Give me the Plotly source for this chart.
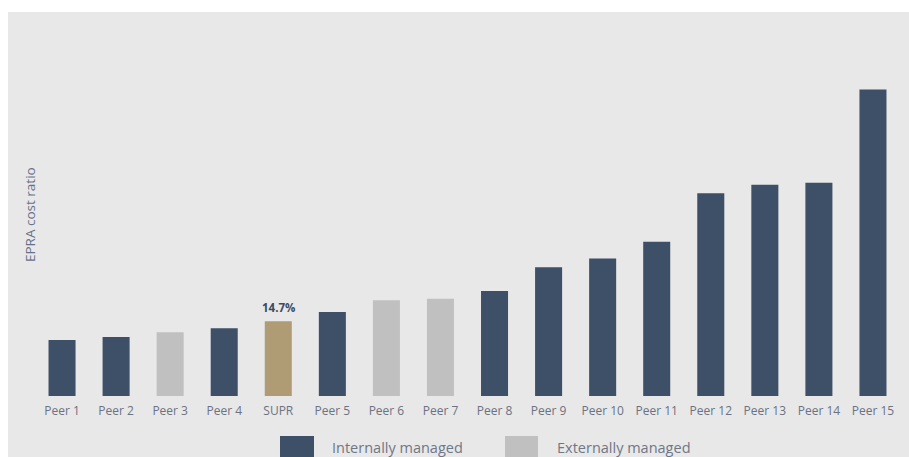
import plotly.graph_objects as go

# Peer group EPRA cost ratios (%)
categories = ["Peer 1", "Peer 2", "Peer 3", "Peer 4", "SUPR", "Peer 5", "Peer 6", "Peer 7",
              "Peer 8", "Peer 9", "Peer 10", "Peer 11", "Peer 12", "Peer 13", "Peer 14", "Peer 15"]
values = [11.0, 11.6, 12.5, 13.3, 14.7, 16.5, 18.8, 19.1,
          20.6, 25.3, 27.0, 30.3, 39.8, 41.5, 41.9, 60.2]
management = ["internal", "internal", "external", "internal", "supr", "internal", "external", "external",
              "internal", "internal", "internal", "internal", "internal", "internal", "internal", "internal"]

DARK = "#3e4f68"
LIGHT = "#c0c0c0"
GOLD = "#b09c74"
BG = "#e8e8e8"
FONT = "Open Sans"

W, H = 909, 457
ML, MR, MT, MB = 35, 9, 65, 61
PW, PH = W - ML - MR, H - MT - MB


def px_x(x):
    return (x - ML) / PW


def px_y(y):
    return (H - MB - y) / PH


def subset(kind):
    xs = [c for c, m in zip(categories, management) if m == kind]
    ys = [v for v, m in zip(values, management) if m == kind]
    return xs, ys


fig = go.Figure()
for kind, color in [("internal", DARK), ("external", LIGHT), ("supr", GOLD)]:
    xs, ys = subset(kind)
    fig.add_bar(x=xs, y=ys, marker=dict(color=color, line=dict(width=0)),
                showlegend=False, hoverinfo="x+y")

shapes = [
    # panel background
    dict(type="rect", xref="paper", yref="paper", layer="below",
         x0=px_x(8), x1=px_x(W), y0=px_y(H), y1=px_y(12),
         fillcolor=BG, line=dict(width=0)),
    # legend swatches
    dict(type="rect", xref="paper", yref="paper",
         x0=px_x(280), x1=px_x(314), y0=px_y(458), y1=px_y(436),
         fillcolor=DARK, line=dict(width=0)),
    dict(type="rect", xref="paper", yref="paper",
         x0=px_x(505), x1=px_x(538), y0=px_y(458), y1=px_y(436),
         fillcolor=LIGHT, line=dict(width=0)),
]

# value label above the highlighted bar
sx, sy = subset("supr")
annotations = [
    dict(text=f"{sy[0]}%", x=sx[0], y=sy[0], xref="x", yref="y",
         showarrow=False, xanchor="center", yanchor="bottom", yshift=4,
         font=dict(family=FONT, size=11.5, color="#3e4a5e", weight="bold")),
    dict(text="EPRA cost ratio", textangle=-90, xref="paper", yref="paper",
         x=px_x(30), y=px_y(215), showarrow=False, xanchor="center", yanchor="middle",
         font=dict(family=FONT, size=13.5, color="#66718a")),
    dict(text="Internally managed", xref="paper", yref="paper",
         x=px_x(330), y=px_y(447), showarrow=False, xanchor="left", yanchor="middle",
         font=dict(family=FONT, size=14.5, color="#6f7787")),
    dict(text="Externally managed", xref="paper", yref="paper",
         x=px_x(555), y=px_y(447), showarrow=False, xanchor="left", yanchor="middle",
         font=dict(family=FONT, size=14.5, color="#6f7787")),
]

fig.update_layout(
    width=W, height=H,
    margin=dict(l=ML, r=MR, t=MT, b=MB),
    paper_bgcolor="white", plot_bgcolor="rgba(0,0,0,0)",
    barmode="overlay", bargap=0.5,
    shapes=shapes, annotations=annotations,
    font=dict(family=FONT),
    xaxis=dict(type="category", categoryorder="array", categoryarray=categories,
               range=[-0.5, len(categories) - 0.5],
               showgrid=False, zeroline=False, showline=False, ticks="",
               ticklabelstandoff=6,
               tickfont=dict(family=FONT, size=12, color="#6a7283")),
    yaxis=dict(range=[0, 65], showgrid=False, zeroline=False, showline=False,
               showticklabels=False, ticks=""),
)

fig.write_html("out.html")
